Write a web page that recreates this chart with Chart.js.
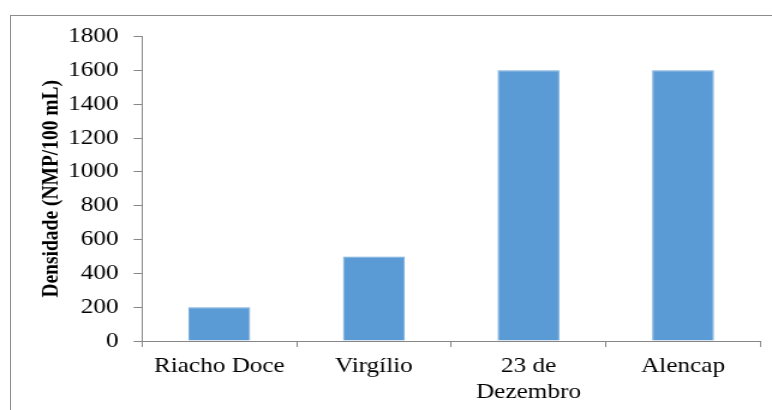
<!DOCTYPE html>
<html>
<head>
<meta charset="utf-8">
<script src="https://cdn.jsdelivr.net/npm/chart.js@4/dist/chart.umd.min.js"></script>
<style>
    html, body { margin: 0; padding: 0; background: #fff; overflow: hidden; width: 772px; height: 410px; }
    .frame { position: absolute; left: 10px; top: 15px; width: 800px; height: 420px; border: 1px solid #8c8c8c; box-sizing: border-box; }
    /* the source picture is stretched sideways, so the chart is drawn narrow and widened */
    .stretch { position: absolute; left: 0; top: 0; width: 643px; height: 410px; transform: scaleX(1.2006); transform-origin: 0 0; }
</style>
</head>
<body>
<div class="frame"></div>
<div class="stretch"><canvas id="densityChart" width="643" height="410"></canvas></div>
<script>
(() => {
    'use strict';

    // Data
    const categories = ['Riacho Doce', 'Virgílio', ['23 de', 'Dezembro'], 'Alencap'];
    const densities = [200, 500, 1600, 1600];
    const yMin = 0;
    const yMax = 1800;
    const yStep = 200;
    const yTitle = 'Densidade (NMP/100 mL)';

    const AXIS_COLOR = '#868686';
    const SERIF = "'Liberation Serif', 'Times New Roman', serif";

    function init() {
        const ctx = document.getElementById('densityChart').getContext('2d');

        new Chart(ctx, {
            type: 'bar',
            data: {
                labels: categories,
                datasets: [{
                    data: densities,
                    backgroundColor: '#5b9bd5',
                    borderColor: '#6fa7da',
                    borderWidth: 1,
                    categoryPercentage: 1,
                    barPercentage: 0.4
                }]
            },
            options: {
                responsive: false,
                animation: false,
                layout: { padding: { left: 0, top: 36.5, right: 9.7, bottom: 0 } },
                plugins: {
                    legend: { display: false },
                    tooltip: { enabled: false }
                },
                scales: {
                    x: {
                        grid: {
                            offset: true,
                            drawOnChartArea: false,
                            drawTicks: true,
                            tickLength: 6,
                            color: AXIS_COLOR
                        },
                        border: { color: AXIS_COLOR, width: 1 },
                        ticks: {
                            color: '#000',
                            padding: 6,
                            maxRotation: 0,
                            autoSkip: false,
                            font: { family: SERIF, size: 21, lineHeight: 1.24 }
                        },
                        afterFit: s => { s.height = 69; }
                    },
                    y: {
                        min: yMin,
                        max: yMax,
                        grid: {
                            drawOnChartArea: false,
                            drawTicks: true,
                            tickLength: 7,
                            color: AXIS_COLOR
                        },
                        border: { color: AXIS_COLOR, width: 1 },
                        ticks: {
                            stepSize: yStep,
                            color: '#000',
                            padding: 12.5,
                            font: { family: SERIF, size: 21 },
                            callback: v => String(v)
                        },
                        title: {
                            display: true,
                            text: yTitle,
                            color: '#000',
                            padding: { top: 31, bottom: 0 },
                            font: { family: SERIF, size: 19.5, weight: 'bold', lineHeight: 1.2 }
                        },
                        afterFit: s => { s.width = 118.3; }
                    }
                }
            }
        });
    }

    document.addEventListener('DOMContentLoaded', init);
})();
</script>
</body>
</html>
